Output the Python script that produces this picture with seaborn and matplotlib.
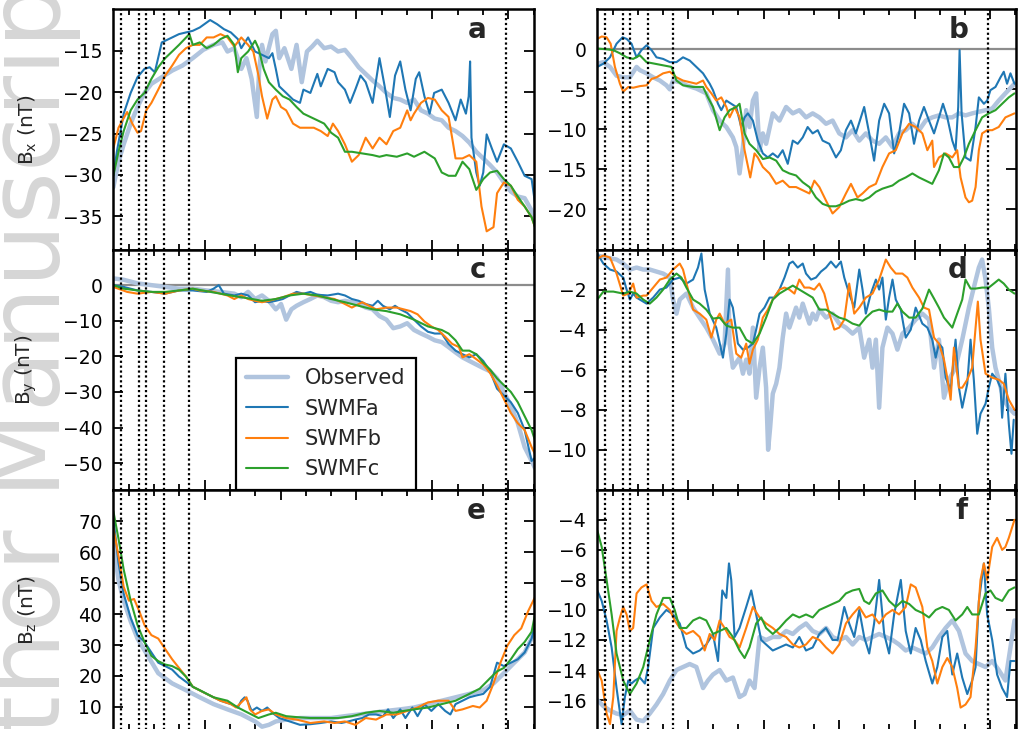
import matplotlib
matplotlib.use("Agg")
import matplotlib.pyplot as plt
from matplotlib.lines import Line2D
from matplotlib.ticker import FixedLocator, MultipleLocator
import seaborn as sns

# ---------------- data: (time [min], field [nT]) ----------------
SERIES_NAMES = ["Observed", "SWMFa", "SWMFb", "SWMFc"]
CROSSINGS = [-65.7, -51.9, -45.9, -32.2, -12.2, 238.5]   # boundary crossing times (dotted lines)

# Panel a : Bx, left column
A_OBS = [(-72.1,-31.5),(-68.0,-28.4),(-63.9,-26.3),(-58.4,-23.8),(-53.0,-21.8),(-47.5,-20.1),(-42.0,-19.0),(-33.8,-18.2),(-25.6,-17.4),(-17.5,-16.8),(-9.3,-15.9),(-1.1,-14.9),(7.1,-14.3),(14.0,-14.0),(18.1,-15.1),(23.5,-14.7),(29.0,-17.2),(33.1,-15.9),(37.2,-18.4),(41.3,-23.0),(43.2,-17.2),(45.4,-14.3),(48.1,-16.3),(53.6,-13.0),(56.3,-12.6),(59.0,-15.9),(63.1,-14.7),(68.6,-17.2),(72.7,-14.3),(76.8,-18.8),(80.9,-15.1),(85.0,-14.5),(89.1,-13.8),(94.5,-14.7),(100.0,-14.5),(105.5,-15.1),(110.9,-14.9),(116.4,-15.9),(121.8,-17.0),(127.3,-17.8),(132.8,-18.6),(138.2,-19.3),(143.7,-20.1),(149.1,-20.7),(154.6,-20.9),(160.1,-21.3),(165.5,-20.9),(171.0,-22.2),(176.5,-22.6),(181.9,-23.2),(187.4,-23.4),(192.8,-24.3),(198.3,-24.7),(203.8,-25.3),(209.2,-26.1),(214.7,-27.2),(220.2,-28.0),(225.6,-28.8),(231.1,-29.7),(236.5,-30.9),(242.0,-32.0),(247.5,-32.6),(252.9,-32.8),(258.4,-34.3),(261.1,-35.5)]
A_A = [(-72.1,-30.1),(-69.3,-27.2),(-63.9,-22.6),(-58.4,-20.1),(-53.0,-18.2),(-47.5,-17.2),(-43.4,-17.0),(-39.3,-17.6),(-33.8,-14.0),(-25.6,-13.4),(-20.2,-13.0),(-9.3,-12.6),(-3.8,-12.2),(4.4,-11.3),(9.9,-11.8),(15.3,-12.4),(20.8,-12.8),(26.3,-13.6),(29.0,-14.7),(34.4,-13.4),(39.9,-15.1),(45.4,-15.5),(50.8,-15.9),(53.6,-15.3),(56.3,-17.2),(59.0,-19.3),(64.5,-20.1),(69.9,-20.9),(75.4,-21.3),(78.1,-19.7),(83.6,-20.1),(89.1,-17.8),(91.8,-19.3),(97.3,-17.2),(102.7,-17.6),(105.5,-18.8),(110.9,-19.7),(115.0,-21.3),(119.1,-19.7),(123.2,-18.0),(127.3,-18.8),(132.8,-21.3),(138.2,-15.9),(142.3,-19.3),(146.4,-23.0),(150.5,-18.0),(154.6,-16.3),(158.7,-19.7),(162.8,-22.2),(166.9,-18.4),(169.6,-17.6),(173.7,-20.5),(177.8,-22.6),(181.4,-20.1),(187.4,-19.7),(192.8,-21.3),(198.3,-23.4),(202.4,-20.9),(206.5,-22.6),(208.7,-20.5),(209.8,-16.3),(210.9,-25.5),(214.7,-29.7),(217.4,-31.3),(220.2,-29.7),(222.9,-25.1),(227.0,-26.8),(231.1,-28.4),(236.5,-26.3),(242.0,-26.8),(247.5,-28.4),(252.9,-30.1),(258.4,-30.5),(261.1,-33.4)]
A_B = [(-72.1,-26.8),(-68.0,-24.3),(-61.2,-22.4),(-57.1,-23.8),(-53.0,-24.9),(-50.2,-24.7),(-46.1,-22.2),(-42.0,-21.3),(-36.6,-19.7),(-31.1,-18.0),(-25.6,-16.8),(-20.2,-15.5),(-14.7,-14.7),(-9.3,-14.3),(-3.8,-14.3),(1.7,-13.4),(7.1,-13.4),(12.6,-13.0),(18.1,-13.4),(23.5,-14.5),(29.0,-13.4),(34.4,-14.3),(38.5,-15.1),(42.6,-18.0),(45.4,-20.5),(49.5,-23.2),(53.6,-20.9),(56.3,-20.5),(60.4,-21.8),(64.5,-22.2),(69.9,-23.8),(75.4,-24.3),(80.9,-24.3),(86.3,-24.3),(91.8,-24.7),(97.3,-25.3),(101.4,-23.8),(105.5,-24.7),(110.9,-26.3),(116.4,-28.4),(121.8,-27.6),(127.3,-25.5),(132.8,-26.8),(138.2,-25.5),(143.7,-26.3),(149.1,-24.7),(154.6,-24.3),(160.1,-22.2),(162.8,-23.4),(165.5,-22.6),(171.0,-21.3),(176.5,-20.7),(181.9,-20.9),(187.4,-22.2),(192.8,-23.0),(195.6,-25.5),(198.3,-28.0),(203.8,-28.0),(209.2,-27.6),(214.7,-28.4),(218.8,-33.8),(222.9,-36.8),(228.3,-36.3),(231.1,-32.2),(236.5,-30.9),(242.0,-31.3),(247.5,-33.0),(252.9,-33.8),(258.4,-35.1),(261.1,-36.3)]
A_C = [(-72.1,-30.1),(-68.0,-27.2),(-63.9,-24.7),(-58.4,-22.2),(-53.0,-20.9),(-47.5,-20.1),(-42.0,-18.4),(-36.6,-17.0),(-31.1,-15.9),(-25.6,-15.1),(-20.2,-14.3),(-12.0,-13.0),(-9.3,-14.3),(-3.8,-14.0),(1.7,-14.7),(7.1,-14.3),(12.6,-13.6),(18.1,-13.2),(23.5,-14.3),(26.3,-17.6),(29.0,-15.9),(34.4,-15.1),(39.9,-13.8),(42.6,-14.7),(46.7,-17.2),(50.8,-18.8),(56.3,-19.7),(61.8,-20.5),(67.2,-20.9),(72.7,-21.8),(78.1,-22.6),(83.6,-23.0),(89.1,-23.4),(94.5,-23.8),(100.0,-24.9),(105.5,-25.5),(110.9,-27.2),(116.4,-27.2),(124.6,-27.4),(132.8,-27.6),(138.2,-27.8),(143.7,-27.6),(151.9,-27.8),(160.1,-27.4),(165.5,-27.8),(173.7,-27.2),(181.9,-28.0),(187.4,-29.7),(192.8,-30.1),(198.3,-30.1),(203.8,-28.4),(209.2,-29.3),(214.7,-31.8),(220.2,-30.5),(225.6,-29.7),(231.1,-29.5),(236.5,-30.5),(242.0,-31.3),(247.5,-32.6),(252.9,-33.8),(258.4,-35.1),(261.1,-36.3)]

# Panel b : Bx, right column
B_OBS = [(-72.1,-1.8),(-67.3,-1.6),(-62.0,-2.2),(-56.8,-3.3),(-51.5,-3.5),(-46.2,-3.5),(-40.9,-2.2),(-38.3,-2.6),(-33.0,-3.0),(-27.7,-3.5),(-22.4,-3.9),(-17.2,-4.5),(-14.5,-5.0),(-11.9,-3.9),(-6.6,-4.1),(-1.3,-4.5),(6.6,-4.9),(14.5,-5.5),(19.8,-7.6),(25.1,-8.9),(30.4,-9.7),(35.6,-11.0),(38.3,-12.2),(40.9,-15.5),(43.6,-12.2),(46.2,-7.6),(48.8,-9.7),(51.5,-6.4),(54.1,-5.5),(56.8,-12.6),(59.4,-10.5),(62.0,-11.8),(67.3,-8.0),(72.6,-8.9),(77.9,-7.2),(83.2,-8.0),(88.4,-7.6),(93.7,-8.5),(99.0,-8.0),(104.3,-8.5),(109.6,-9.3),(114.8,-8.9),(120.1,-10.5),(125.4,-11.0),(130.7,-10.1),(136.0,-11.4),(141.2,-10.5),(146.5,-11.4),(151.8,-11.8),(157.1,-11.0),(162.4,-12.2),(167.6,-10.5),(172.9,-10.1),(178.2,-9.3),(183.5,-10.1),(188.8,-8.9),(194.0,-8.5),(199.3,-8.25),(204.6,-8.5),(209.9,-8.5),(215.2,-8.0),(220.4,-8.25),(225.7,-8.0),(231.0,-7.8),(236.3,-7.6),(241.6,-7.4),(246.8,-6.4),(252.1,-5.5),(259.3,-4.3)]
B_A = [(-72.1,-2.2),(-67.3,-1.8),(-62.0,-1.0),(-56.8,0.7),(-52.0,1.5),(-48.8,1.3),(-44.9,0.7),(-40.9,-1.0),(-37.0,-0.1),(-33.0,0.5),(-29.0,-0.1),(-25.1,-1.0),(-19.8,-1.2),(-14.5,-1.6),(-9.2,-1.6),(-4.0,-1.0),(1.3,-1.4),(6.6,-2.2),(11.9,-3.0),(17.2,-4.3),(19.8,-5.1),(23.8,-6.8),(26.4,-7.6),(30.4,-6.4),(34.3,-6.8),(38.3,-7.2),(42.2,-9.7),(44.9,-8.5),(47.5,-8.0),(51.5,-8.9),(55.4,-11.4),(59.4,-13.0),(63.4,-13.5),(67.3,-13.0),(71.3,-13.5),(75.2,-12.6),(79.2,-14.3),(83.2,-11.4),(87.1,-11.8),(91.1,-11.0),(95.0,-9.7),(99.0,-10.5),(103.0,-10.1),(106.9,-11.4),(112.2,-11.8),(117.5,-13.5),(121.4,-12.6),(125.4,-10.1),(129.4,-8.9),(133.3,-10.5),(137.3,-8.5),(139.9,-7.2),(143.9,-10.5),(147.8,-13.9),(151.8,-8.9),(155.8,-6.8),(159.7,-8.0),(163.7,-13.0),(167.6,-10.5),(171.6,-6.8),(175.6,-8.0),(179.5,-11.8),(183.5,-8.9),(187.4,-7.2),(191.4,-8.9),(195.4,-10.5),(199.3,-8.5),(202.5,-6.8),(205.9,-8.5),(209.9,-11.4),(212.5,-12.6),(214.6,-7.2),(215.7,-0.1),(217.3,-8.0),(220.4,-13.5),(224.4,-13.9),(228.4,-9.7),(231.0,-6.0),(235.0,-6.8),(237.6,-6.4),(240.2,-5.1),(244.2,-4.7),(248.2,-3.5),(250.8,-2.8),(253.4,-4.3),(256.1,-3.0),(259.3,-4.3)]
B_B = [(-72.1,1.3),(-68.6,1.6),(-64.7,1.5),(-61.5,0.7),(-58.1,-2.2),(-54.1,-4.3),(-51.5,-5.3),(-47.5,-4.7),(-43.6,-4.8),(-38.3,-4.6),(-33.0,-4.5),(-29.0,-3.7),(-25.1,-3.5),(-19.8,-3.0),(-14.5,-2.8),(-9.2,-3.5),(-4.0,-3.9),(1.3,-4.1),(6.6,-4.3),(11.9,-3.9),(14.5,-4.7),(18.5,-5.5),(22.4,-6.4),(26.4,-6.0),(30.4,-7.2),(33.0,-8.5),(37.0,-7.2),(40.9,-8.5),(44.9,-12.6),(49.4,-16.0),(52.8,-13.0),(55.4,-13.5),(59.4,-14.7),(64.7,-15.5),(70.0,-16.8),(75.2,-16.4),(80.5,-17.2),(85.8,-17.2),(91.1,-17.6),(96.4,-18.0),(100.3,-16.4),(104.3,-17.2),(109.6,-18.9),(114.8,-20.5),(120.1,-19.7),(125.4,-18.0),(129.4,-16.8),(134.6,-18.5),(138.6,-18.0),(143.9,-17.2),(149.2,-16.8),(154.4,-14.7),(159.7,-13.0),(165.0,-12.6),(170.3,-10.5),(175.6,-9.3),(180.8,-9.7),(186.1,-10.5),(190.1,-12.6),(194.0,-11.4),(195.4,-14.7),(199.3,-13.5),(204.6,-13.0),(209.9,-13.5),(213.8,-12.6),(216.5,-16.0),(220.4,-18.5),(223.1,-19.1),(225.7,-18.9),(228.4,-17.2),(231.0,-12.6),(233.6,-10.5),(237.6,-10.1),(241.6,-10.1),(246.8,-9.7),(252.1,-8.5),(259.3,-8.0)]
B_C = [(-72.1,0.1),(-64.7,0.0),(-59.4,-0.1),(-54.1,-0.5),(-48.8,-1.0),(-43.6,-1.2),(-38.3,-0.75),(-33.0,-1.6),(-26.4,-1.8),(-19.8,-2.0),(-13.2,-2.2),(-9.2,-3.9),(-4.0,-4.5),(4.0,-4.7),(11.9,-4.7),(15.8,-6.0),(19.8,-7.2),(25.1,-10.1),(29.0,-8.5),(33.0,-7.6),(38.3,-7.2),(40.9,-6.8),(44.9,-10.5),(48.8,-11.8),(54.1,-12.6),(59.4,-13.7),(64.7,-13.5),(70.0,-13.9),(75.2,-15.1),(80.5,-15.5),(85.8,-15.75),(91.1,-16.6),(96.4,-17.2),(101.6,-18.5),(106.9,-19.3),(112.2,-19.6),(117.5,-19.6),(122.8,-19.3),(128.0,-18.9),(133.3,-18.7),(138.6,-18.9),(143.9,-18.5),(149.2,-17.8),(154.4,-17.4),(162.4,-17.0),(167.6,-16.4),(172.9,-16.0),(178.2,-15.5),(183.5,-16.0),(188.8,-16.4),(194.0,-16.8),(199.3,-15.1),(203.3,-13.0),(207.2,-13.5),(211.2,-14.7),(215.2,-14.7),(219.1,-13.5),(223.1,-11.8),(228.4,-10.1),(233.6,-8.5),(238.9,-8.0),(244.2,-7.6),(249.5,-6.8),(254.8,-6.0),(259.3,-5.5)]

# Panel c : By, left column
C_OBS = [(-72.1,1.9),(-63.9,1.5),(-53.0,0.5),(-42.0,0.0),(-31.1,-0.5),(-20.2,-1.0),(-9.3,-1.0),(1.7,-1.5),(12.6,-1.9),(23.5,-2.4),(29.0,-3.4),(34.4,-1.9),(39.9,-3.9),(45.4,-2.9),(50.8,-4.4),(56.3,-6.8),(60.4,-5.3),(64.5,-9.7),(68.6,-6.8),(72.7,-5.8),(78.1,-4.8),(83.6,-3.9),(89.1,-2.9),(94.5,-3.4),(100.0,-4.4),(105.5,-4.8),(110.9,-4.4),(116.4,-4.8),(121.8,-5.3),(127.3,-6.3),(132.8,-6.8),(138.2,-8.7),(143.7,-9.7),(149.1,-12.1),(154.6,-11.6),(160.1,-10.7),(165.5,-12.6),(171.0,-13.6),(176.5,-14.5),(181.9,-15.5),(187.4,-16.0),(192.8,-17.4),(198.3,-18.9),(203.8,-20.3),(209.2,-21.3),(214.7,-22.3),(220.2,-23.3),(225.6,-24.2),(231.1,-26.2),(236.5,-30.0),(242.0,-33.9),(247.5,-38.8),(252.9,-45.5),(258.4,-49.4),(261.1,-51.4)]
C_A = [(-72.1,0.0),(-63.9,-0.5),(-53.0,-1.5),(-42.0,-1.9),(-31.1,-2.4),(-20.2,-1.5),(-9.3,-1.5),(1.7,-1.9),(7.1,-1.0),(11.2,0.0),(15.3,-2.4),(23.5,-2.9),(29.0,-2.4),(34.4,-2.9),(39.9,-4.8),(45.4,-4.4),(50.8,-4.8),(56.3,-4.4),(61.8,-3.9),(67.2,-2.9),(72.7,-1.9),(78.1,-2.4),(83.6,-1.9),(89.1,-2.7),(97.3,-2.9),(105.5,-2.4),(110.9,-2.9),(116.4,-3.9),(121.8,-4.4),(127.3,-5.3),(132.8,-5.8),(136.9,-4.4),(140.9,-5.8),(146.4,-6.8),(150.5,-5.8),(154.6,-6.8),(160.1,-7.8),(165.5,-9.7),(171.0,-11.6),(176.5,-13.1),(181.9,-13.6),(187.4,-13.6),(192.8,-16.5),(198.3,-18.4),(203.8,-19.4),(209.2,-20.3),(214.7,-19.4),(220.2,-21.3),(225.6,-24.2),(231.1,-29.1),(236.5,-31.0),(242.0,-32.9),(247.5,-35.9),(252.9,-40.7),(258.4,-49.4),(261.1,-48.5)]
C_B = [(-72.1,-0.5),(-61.2,-1.9),(-53.0,-2.4),(-42.0,-1.9),(-31.1,-2.4),(-20.2,-1.5),(-9.3,-1.0),(-3.8,-1.5),(7.1,-1.9),(18.1,-2.9),(23.5,-3.9),(29.0,-2.9),(34.4,-3.9),(39.9,-4.4),(45.4,-4.8),(50.8,-4.4),(56.3,-3.9),(61.8,-3.4),(69.9,-2.4),(78.1,-2.4),(86.3,-2.9),(94.5,-3.4),(102.7,-3.9),(110.9,-5.3),(116.4,-6.3),(124.6,-4.8),(130.0,-5.8),(135.5,-6.8),(143.7,-6.3),(151.9,-6.3),(157.3,-6.8),(162.8,-7.3),(168.3,-8.2),(173.7,-10.2),(179.2,-11.6),(184.6,-12.6),(190.1,-14.5),(195.6,-16.5),(201.0,-17.4),(203.8,-20.3),(209.2,-19.4),(214.7,-20.8),(220.2,-22.3),(225.6,-24.7),(231.1,-28.1),(236.5,-32.0),(242.0,-35.9),(247.5,-38.8),(252.9,-40.7),(258.4,-45.5),(261.1,-47.5)]
C_C = [(-72.1,0.0),(-63.9,-1.0),(-53.0,-1.5),(-42.0,-1.9),(-31.1,-1.9),(-20.2,-1.5),(-9.3,-1.0),(1.7,-1.7),(12.6,-2.4),(23.5,-3.1),(34.4,-3.7),(45.4,-4.4),(56.3,-3.9),(67.2,-2.9),(78.1,-2.4),(89.1,-2.9),(100.0,-3.9),(110.9,-4.8),(121.8,-5.8),(132.8,-6.8),(143.7,-7.3),(154.6,-8.2),(165.5,-9.7),(176.5,-11.6),(187.4,-12.6),(192.8,-13.6),(198.3,-15.5),(203.8,-18.4),(209.2,-18.4),(214.7,-19.4),(220.2,-21.8),(225.6,-23.7),(231.1,-26.2),(236.5,-28.1),(242.0,-30.0),(247.5,-32.9),(252.9,-36.8),(258.4,-40.7),(261.1,-43.6)]

# Panel d : By, right column
D_OBS = [(-72.1,-0.3),(-64.7,-0.4),(-56.8,-0.5),(-51.5,-0.7),(-46.2,-1.0),(-40.9,-0.9),(-35.6,-1.0),(-30.4,-1.0),(-25.1,-1.1),(-19.8,-1.2),(-14.5,-1.4),(-11.9,-2.5),(-9.2,-3.2),(-6.6,-2.5),(-1.3,-2.2),(4.0,-2.9),(9.2,-3.4),(14.5,-3.9),(19.8,-4.5),(25.1,-5.2),(29.0,-4.7),(31.7,-1.0),(33.0,-4.7),(35.6,-5.9),(40.9,-5.4),(43.6,-6.2),(46.2,-5.5),(48.8,-6.2),(51.5,-3.9),(54.1,-7.4),(56.8,-5.9),(59.4,-4.9),(62.0,-6.9),(63.6,-10.0),(65.2,-8.9),(67.3,-7.2),(70.0,-6.7),(72.6,-5.9),(75.2,-4.4),(77.9,-3.2),(80.5,-3.9),(83.2,-3.4),(85.8,-2.9),(88.4,-3.4),(91.1,-2.7),(93.7,-3.2),(96.4,-3.7),(99.0,-3.2),(101.6,-3.5),(104.3,-3.0),(109.6,-3.4),(114.8,-3.2),(120.1,-3.7),(125.4,-3.9),(130.7,-4.2),(136.0,-3.9),(139.9,-5.4),(143.9,-4.5),(146.5,-5.9),(149.2,-4.5),(151.8,-7.9),(154.4,-4.9),(158.4,-3.9),(162.4,-4.2),(166.3,-5.0),(170.3,-4.2),(175.6,-3.9),(180.8,-3.5),(186.1,-3.2),(191.4,-3.5),(195.4,-5.9),(199.3,-4.5),(203.3,-7.4),(207.2,-6.5),(212.5,-5.9),(217.8,-4.5),(223.1,-2.9),(227.0,-1.9),(231.0,-0.9),(233.6,-0.5),(236.3,-1.5),(238.9,-2.9),(241.6,-4.9),(244.2,-5.9),(246.8,-6.5),(250.8,-7.5),(254.8,-7.9),(259.3,-8.2)]
D_A = [(-72.1,-0.2),(-67.3,-0.7),(-62.0,-1.0),(-56.8,-1.1),(-51.5,-1.4),(-48.8,-2.0),(-46.2,-2.5),(-43.6,-2.2),(-40.9,-2.4),(-38.3,-2.5),(-33.0,-2.7),(-27.7,-2.4),(-22.4,-2.0),(-17.2,-1.9),(-11.9,-1.5),(-6.6,-1.4),(-1.3,-1.7),(4.0,-1.5),(7.9,-0.9),(10.6,-0.2),(13.2,-2.0),(17.2,-3.2),(22.4,-3.9),(27.7,-5.4),(30.4,-4.2),(33.0,-2.5),(35.6,-2.9),(39.6,-4.7),(43.6,-5.0),(47.5,-4.9),(51.5,-4.7),(54.1,-4.0),(56.8,-3.2),(60.7,-2.9),(64.7,-2.4),(68.6,-2.4),(72.6,-2.0),(76.6,-1.4),(80.5,-0.7),(83.2,-0.6),(87.1,-0.9),(91.1,-0.7),(93.7,-1.2),(97.7,-1.5),(101.6,-1.4),(105.6,-1.1),(109.6,-0.9),(113.5,-0.6),(117.5,-0.9),(121.4,-0.6),(124.1,-1.4),(128.0,-2.2),(132.0,-2.9),(136.0,-1.0),(138.6,-2.0),(141.2,-3.2),(145.2,-2.2),(149.2,-1.5),(151.8,-2.0),(154.4,-1.4),(157.1,-3.5),(159.7,-2.4),(162.4,-1.5),(165.0,-2.5),(169.0,-3.0),(172.9,-4.4),(176.9,-4.0),(180.8,-2.9),(186.1,-3.7),(190.1,-3.9),(194.0,-4.5),(196.7,-5.4),(199.3,-4.7),(202.0,-4.9),(204.6,-6.4),(208.6,-7.0),(212.5,-4.5),(215.2,-6.9),(217.8,-7.9),(221.8,-6.7),(224.4,-4.5),(227.0,-6.5),(229.7,-9.2),(232.3,-8.2),(236.3,-7.7),(238.9,-6.9),(241.6,-6.2),(245.5,-6.5),(248.2,-6.9),(249.5,-8.4),(252.1,-6.2),(254.8,-8.7),(256.9,-10.2),(258.7,-8.5)]
D_B = [(-72.1,-0.45),(-67.3,-0.3),(-62.0,-0.4),(-56.8,-1.2),(-51.5,-2.3),(-47.5,-2.2),(-43.6,-1.7),(-40.9,-2.4),(-35.6,-2.3),(-33.0,-2.3),(-27.7,-1.9),(-22.4,-1.5),(-17.2,-1.4),(-11.9,-1.0),(-6.6,-0.7),(-4.0,-1.0),(0.0,-2.0),(4.0,-3.0),(9.2,-3.2),(14.5,-3.5),(18.5,-4.4),(22.4,-3.5),(25.1,-3.2),(29.0,-3.7),(34.3,-3.5),(38.3,-5.2),(42.2,-5.4),(46.2,-4.7),(48.8,-5.7),(51.5,-5.0),(55.4,-4.5),(59.4,-3.4),(63.4,-3.0),(67.3,-2.5),(72.6,-2.0),(76.6,-1.9),(80.5,-2.0),(84.5,-2.2),(88.4,-1.5),(92.4,-1.9),(96.4,-1.9),(100.3,-2.0),(104.3,-1.7),(108.2,-2.2),(112.2,-3.2),(116.2,-4.0),(120.1,-3.9),(124.1,-3.5),(128.0,-1.7),(132.0,-3.2),(136.0,-2.9),(141.2,-2.4),(146.5,-2.2),(151.8,-1.5),(157.1,-0.5),(161.0,-0.9),(165.0,-1.2),(170.3,-1.2),(174.2,-1.4),(178.2,-1.9),(183.5,-2.4),(187.4,-2.9),(191.4,-3.0),(195.4,-4.4),(199.3,-4.7),(203.3,-5.5),(205.9,-6.4),(208.6,-7.5),(211.2,-4.9),(215.2,-6.9),(217.8,-6.9),(221.8,-6.5),(225.7,-5.9),(228.4,-3.9),(230.2,-2.6),(232.3,-4.5),(236.3,-6.2),(241.6,-6.4),(246.8,-6.5),(250.8,-6.7),(254.8,-7.5),(259.3,-8.0)]
D_C = [(-72.1,-2.5),(-67.3,-2.1),(-59.4,-2.1),(-51.5,-2.2),(-46.2,-2.1),(-40.9,-2.2),(-35.6,-2.5),(-30.4,-2.7),(-25.1,-2.4),(-19.8,-2.0),(-14.5,-1.5),(-9.2,-1.2),(-5.3,-1.4),(-1.3,-1.9),(4.0,-2.5),(9.2,-2.7),(14.5,-3.0),(19.8,-3.45),(25.1,-3.4),(30.4,-3.8),(35.6,-3.9),(40.9,-3.9),(46.2,-4.5),(51.5,-4.7),(56.8,-4.2),(62.0,-3.4),(67.3,-2.5),(72.6,-2.2),(77.9,-2.0),(83.2,-1.8),(88.4,-2.0),(93.7,-2.2),(99.0,-2.4),(104.3,-3.0),(109.6,-3.0),(114.8,-3.2),(120.1,-3.4),(125.4,-3.5),(130.7,-3.7),(136.0,-3.8),(141.2,-3.4),(146.5,-3.1),(151.8,-3.0),(157.1,-3.1),(162.4,-3.1),(166.3,-2.7),(170.3,-3.1),(175.6,-3.4),(180.8,-3.4),(186.1,-2.95),(191.4,-2.0),(195.4,-2.45),(199.3,-2.9),(203.3,-3.4),(209.9,-3.9),(213.8,-3.2),(217.8,-2.5),(220.4,-1.5),(224.4,-1.95),(228.4,-1.95),(233.6,-1.9),(238.9,-1.9),(242.9,-1.7),(246.8,-1.5),(250.8,-1.7),(254.8,-2.0),(259.3,-2.2)]

# Panel e : Bz, left column
E_OBS = [(-72.1,63.3),(-68.0,51.0),(-63.9,44.4),(-58.4,37.7),(-53.0,32.1),(-44.8,26.5),(-36.6,20.9),(-25.6,17.6),(-14.7,15.4),(-3.8,13.1),(7.1,10.9),(18.1,9.2),(29.0,7.6),(39.9,5.3),(45.4,3.6),(50.8,4.2),(56.3,5.3),(64.5,5.9),(75.4,6.4),(86.3,6.4),(100.0,6.4),(110.9,7.0),(121.8,7.55),(132.8,8.1),(143.7,8.7),(154.6,9.2),(165.5,9.8),(176.5,10.9),(187.4,12.0),(198.3,13.1),(209.2,14.2),(220.2,15.4),(228.3,17.6),(236.5,20.9),(244.7,24.3),(252.9,27.6),(258.4,32.1),(261.1,36.5)]
E_A = [(-72.1,71.1),(-68.0,56.6),(-63.9,46.6),(-58.4,38.8),(-53.0,33.2),(-47.5,31.0),(-42.0,27.6),(-36.6,24.3),(-31.1,23.2),(-25.6,22.05),(-20.2,19.8),(-9.3,16.5),(1.7,14.2),(12.6,12.0),(20.8,10.9),(26.3,9.8),(29.0,12.0),(31.7,13.1),(33.9,12.0),(37.2,8.7),(41.3,9.8),(45.4,8.7),(49.5,9.8),(53.6,8.1),(59.0,6.4),(67.2,5.3),(75.4,4.2),(83.6,4.4),(91.8,4.8),(100.0,5.3),(108.2,4.8),(113.6,5.3),(119.1,5.9),(124.6,6.4),(130.0,7.55),(135.5,7.55),(141.0,7.0),(145.0,9.2),(149.1,6.4),(154.6,9.2),(158.7,6.4),(164.2,9.8),(168.3,7.0),(173.7,10.9),(179.2,8.7),(184.6,10.9),(190.1,8.7),(194.2,7.55),(198.3,10.9),(203.8,12.0),(209.2,13.1),(214.7,13.7),(220.2,14.2),(225.6,16.5),(231.1,24.3),(236.5,23.2),(242.0,24.3),(247.5,25.4),(252.9,27.6),(258.4,32.1),(261.1,36.5)]
E_B = [(-72.1,67.8),(-68.0,58.85),(-63.9,48.8),(-59.8,44.35),(-55.7,44.9),(-51.6,41.0),(-47.5,36.5),(-42.0,33.2),(-36.6,32.1),(-31.1,28.7),(-25.6,25.4),(-20.2,22.6),(-14.7,19.8),(-9.3,16.5),(1.7,14.2),(12.6,12.0),(20.8,10.9),(24.9,9.8),(29.0,11.45),(33.1,13.1),(35.8,9.2),(39.9,7.55),(45.4,8.7),(50.8,9.2),(56.3,7.55),(64.5,6.4),(72.7,5.9),(83.6,4.8),(94.5,5.3),(102.7,4.8),(110.9,5.3),(119.1,4.2),(127.3,6.4),(135.5,5.9),(143.7,7.55),(151.9,7.55),(160.1,8.7),(168.3,9.8),(176.5,11.45),(184.6,12.0),(192.8,12.0),(198.3,8.7),(203.8,9.2),(212.0,10.3),(217.4,9.8),(222.9,12.0),(228.3,17.6),(233.8,24.3),(239.3,29.85),(244.7,33.2),(250.2,35.4),(255.7,41.0),(261.1,45.5)]
E_C = [(-72.1,73.35),(-68.0,64.4),(-63.9,54.4),(-58.4,44.35),(-53.0,36.5),(-47.5,31.0),(-42.0,26.5),(-36.6,24.8),(-31.1,23.7),(-25.6,23.2),(-20.2,22.05),(-14.7,19.8),(-9.3,16.5),(-3.8,15.4),(7.1,13.1),(18.1,12.0),(26.3,9.8),(34.4,8.1),(42.6,6.4),(50.8,7.55),(56.3,8.1),(64.5,7.0),(72.7,6.7),(83.6,6.4),(94.5,6.4),(105.5,6.4),(116.4,7.0),(127.3,8.1),(138.2,8.7),(149.1,8.1),(157.3,8.7),(165.5,9.2),(176.5,9.8),(187.4,10.9),(198.3,12.0),(209.2,14.2),(217.4,15.9),(225.6,19.3),(231.1,21.5),(236.5,22.6),(242.0,25.4),(247.5,28.7),(252.9,31.0),(258.4,34.3),(261.1,39.9)]

# Panel f : Bz, right column
F_OBS = [(-72.1,-16.0),(-67.3,-16.4),(-62.0,-16.7),(-56.8,-16.9),(-51.5,-17.0),(-46.2,-16.7),(-40.9,-17.3),(-35.6,-17.4),(-30.4,-16.9),(-25.1,-16.3),(-19.8,-15.6),(-14.5,-14.7),(-9.2,-14.0),(-4.0,-13.8),(1.3,-13.6),(6.6,-13.8),(11.9,-15.2),(15.8,-14.7),(19.8,-14.3),(25.1,-14.0),(30.4,-14.7),(35.6,-14.5),(40.9,-15.8),(44.9,-15.6),(48.8,-14.7),(52.8,-15.2),(56.8,-11.8),(62.0,-12.0),(67.3,-11.8),(72.6,-11.8),(77.9,-11.4),(83.2,-11.6),(88.4,-11.2),(93.7,-10.9),(99.0,-11.4),(104.3,-11.6),(109.6,-11.2),(114.8,-11.8),(120.1,-12.0),(125.4,-11.8),(130.7,-12.3),(136.0,-11.8),(141.2,-12.0),(146.5,-11.8),(151.8,-11.6),(157.1,-11.8),(162.4,-12.0),(167.6,-12.3),(172.9,-12.7),(178.2,-12.5),(183.5,-12.7),(188.8,-12.9),(194.0,-12.5),(199.3,-11.8),(204.6,-11.2),(209.9,-10.7),(215.2,-11.4),(220.4,-12.9),(225.7,-13.4),(231.0,-13.6),(236.3,-13.8),(241.6,-13.4),(246.8,-14.0),(252.1,-14.7),(256.1,-12.5),(259.3,-10.7)]
F_A = [(-72.1,-8.7),(-68.6,-9.4),(-64.7,-10.7),(-60.7,-12.5),(-56.8,-15.2),(-52.8,-17.6),(-50.2,-15.8),(-47.5,-14.7),(-44.9,-14.9),(-42.2,-14.7),(-38.3,-14.5),(-34.3,-14.9),(-31.7,-13.8),(-27.7,-11.2),(-22.4,-10.5),(-17.2,-10.0),(-11.9,-10.3),(-6.6,-10.9),(-1.3,-12.5),(4.0,-12.9),(9.2,-12.7),(14.5,-12.3),(19.8,-11.6),(23.8,-13.4),(27.2,-8.7),(30.4,-9.2),(32.5,-6.9),(34.3,-8.0),(37.0,-11.8),(40.9,-11.2),(46.2,-9.8),(50.2,-8.7),(54.1,-10.3),(58.1,-12.0),(62.0,-12.3),(67.3,-12.7),(72.6,-12.5),(77.9,-12.3),(83.2,-12.5),(88.4,-11.8),(93.7,-12.7),(99.0,-12.5),(104.3,-11.6),(109.6,-11.2),(114.8,-12.0),(118.8,-12.0),(124.1,-9.8),(128.0,-10.9),(132.0,-11.8),(136.0,-10.0),(139.9,-11.8),(143.9,-12.9),(147.8,-10.9),(151.8,-8.0),(155.8,-11.6),(159.7,-12.9),(163.7,-10.3),(169.0,-8.0),(172.9,-11.4),(176.9,-12.9),(180.8,-11.2),(184.8,-12.0),(188.8,-13.4),(194.0,-14.9),(198.0,-13.8),(202.0,-11.8),(205.9,-11.4),(209.9,-14.3),(213.8,-12.9),(217.8,-14.5),(221.8,-15.6),(225.7,-14.7),(228.4,-13.8),(231.0,-9.4),(235.0,-6.9),(237.6,-10.3),(241.6,-12.0),(245.5,-14.3),(249.5,-15.2),(253.4,-15.8),(256.1,-13.4),(259.3,-13.4)]
F_B = [(-72.1,-14.0),(-68.6,-14.7),(-64.7,-16.9),(-62.0,-17.6),(-59.4,-15.8),(-56.8,-11.4),(-54.1,-10.5),(-51.5,-9.8),(-48.8,-10.3),(-46.2,-11.4),(-43.6,-11.2),(-40.9,-8.9),(-37.0,-8.5),(-33.0,-8.3),(-29.0,-9.4),(-25.1,-9.8),(-19.8,-9.6),(-14.5,-10.0),(-10.6,-10.7),(-6.6,-11.2),(-1.3,-11.6),(4.0,-11.4),(9.2,-11.8),(13.2,-12.7),(17.2,-11.6),(21.1,-12.0),(25.1,-10.7),(29.0,-11.2),(33.0,-11.8),(37.0,-12.0),(40.9,-12.5),(46.2,-11.2),(51.5,-9.8),(56.8,-10.5),(62.0,-10.9),(67.3,-11.2),(72.6,-11.6),(77.9,-11.8),(83.2,-12.3),(88.4,-12.5),(93.7,-12.3),(99.0,-11.8),(104.3,-12.0),(109.6,-12.5),(114.8,-12.9),(120.1,-12.3),(125.4,-10.9),(130.7,-10.3),(136.0,-9.8),(141.2,-10.5),(146.5,-10.3),(151.8,-10.9),(157.1,-10.3),(162.4,-10.0),(167.6,-10.3),(172.9,-9.8),(176.9,-8.3),(180.8,-8.5),(186.1,-9.8),(190.1,-12.5),(194.0,-13.4),(198.0,-14.9),(202.0,-13.8),(205.9,-13.2),(209.9,-13.8),(213.8,-15.2),(216.5,-16.5),(220.4,-16.3),(224.4,-15.8),(228.4,-12.5),(232.3,-8.0),(235.0,-6.9),(237.6,-8.0),(241.6,-5.8),(245.5,-5.2),(249.5,-6.0),(252.1,-5.8),(254.8,-5.2),(259.3,-4.0)]
F_C = [(-72.1,-4.7),(-68.6,-5.8),(-64.7,-8.0),(-60.7,-10.3),(-56.8,-12.9),(-51.5,-14.7),(-46.2,-15.6),(-40.9,-14.9),(-35.6,-13.8),(-30.4,-12.0),(-25.1,-10.3),(-19.8,-9.2),(-14.5,-9.2),(-10.6,-10.0),(-6.6,-11.2),(-1.3,-11.2),(4.0,-10.7),(9.2,-10.5),(14.5,-10.7),(19.8,-11.6),(25.1,-11.4),(30.4,-11.2),(35.6,-11.8),(40.9,-12.7),(44.9,-13.2),(48.8,-12.5),(54.1,-10.9),(58.1,-10.5),(62.0,-11.2),(67.3,-11.6),(72.6,-11.2),(77.9,-10.7),(83.2,-10.3),(88.4,-10.5),(93.7,-10.3),(99.0,-10.5),(104.3,-10.0),(109.6,-9.8),(114.8,-9.6),(120.1,-9.4),(125.4,-8.9),(130.7,-8.7),(136.0,-8.6),(139.9,-9.4),(143.9,-9.6),(149.2,-8.9),(154.4,-8.7),(159.7,-9.4),(165.0,-9.8),(170.3,-9.4),(175.6,-9.6),(180.8,-10.0),(186.1,-10.2),(191.4,-10.5),(196.7,-10.0),(202.0,-9.8),(207.2,-10.0),(212.5,-10.7),(217.8,-10.3),(221.8,-9.8),(225.7,-10.3),(231.0,-10.3),(236.3,-8.9),(240.2,-8.7),(244.2,-9.2),(249.5,-9.4),(254.8,-8.7),(259.3,-8.5)]

# axis settings per panel
Y_TICKS = {
    "a": [-35, -30, -25, -20, -15], "b": [-20, -15, -10, -5, 0],
    "c": [-50, -40, -30, -20, -10, 0], "d": [-10, -8, -6, -4, -2],
    "e": [10, 20, 30, 40, 50, 60, 70], "f": [-16, -14, -12, -10, -8, -6, -4],
}
Y_LIMS = {"a": (-39, -10), "b": (-25, 5), "c": (-57.5, 10), "d": (-12, 0),
          "e": (2.5, 80.2), "f": (-18, -2)}
Y_LABELS = {"a": "B$_{\\mathrm{x}}$ (nT)", "c": "B$_{\\mathrm{y}}$ (nT)", "e": "B$_{\\mathrm{z}}$ (nT)"}
T_LIM = (-72.07, 260.3)
T_MAJOR = [0, 60, 120, 180, 240]

COLORS = ["#b0c4de", "#1f77b4", "#ff7f0e", "#2ca02c"]
WIDTHS = [3.2, 1.5, 1.5, 1.5]

# ---------------- style ----------------
sns.set_style("white")
plt.rcParams["font.family"] = ["DejaVu Sans"]
plt.rcParams["mathtext.default"] = "regular"
plt.rcParams["axes.unicode_minus"] = True

fig = plt.figure(figsize=(10.23, 7.29), dpi=100)

# faint journal watermark at the far left (partly outside the page)
fig.text(0.059, -0.188, "Author Manuscript", rotation=90, rotation_mode="anchor",
         ha="left", va="baseline", fontsize=72, family="DejaVu Sans",
         color="#d6d6d6", zorder=-5)

col_x = [0.1108, 0.5839]
col_w = [0.4112, 0.4090]
row_y = [0.6577, 0.3281, -0.0015]
row_h = 0.3296

layout = [("a", 0, 0, [A_OBS, A_A, A_B, A_C]), ("b", 0, 1, [B_OBS, B_A, B_B, B_C]),
          ("c", 1, 0, [C_OBS, C_A, C_B, C_C]), ("d", 1, 1, [D_OBS, D_A, D_B, D_C]),
          ("e", 2, 0, [E_OBS, E_A, E_B, E_C]), ("f", 2, 1, [F_OBS, F_A, F_B, F_C])]

axes = {}
for key, r, c, series in layout:
    ax = fig.add_axes([col_x[c], row_y[r], col_w[c], row_h])
    axes[key] = ax
    ax.axhline(0, color="#8c8c8c", lw=1.6, zorder=1)
    for s, col, lw in zip(series, COLORS, WIDTHS):
        tt = [p[0] for p in s]
        vv = [p[1] for p in s]
        sns.lineplot(x=tt, y=vv, ax=ax, color=col, lw=lw, sort=False,
                     estimator=None, legend=False, zorder=2)
    for tc in CROSSINGS:
        ax.axvline(tc, color="black", ls=(0, (1, 1.2)), lw=1.6, zorder=3)
    ax.set_xlim(*T_LIM)
    ax.set_ylim(*Y_LIMS[key])
    ax.yaxis.set_major_locator(FixedLocator(Y_TICKS[key]))
    ax.xaxis.set_major_locator(FixedLocator(T_MAJOR))
    ax.xaxis.set_minor_locator(MultipleLocator(20))
    ax.tick_params(axis="both", which="both", direction="in", top=True, right=True,
                   bottom=True, left=True, labelbottom=False, labeltop=False,
                   colors="black")
    ax.tick_params(axis="both", which="major", length=7, width=1.3, labelsize=13.5, pad=8)
    ax.tick_params(axis="both", which="minor", length=4, width=1.3)
    for sp in ax.spines.values():
        sp.set_linewidth(1.8)
        sp.set_color("black")
        sp.set_visible(True)
    ax.set_xlabel("")
    if key in Y_LABELS:
        ax.set_ylabel(Y_LABELS[key], fontsize=14.5)
        ax.yaxis.set_label_coords(-0.176, 0.5)
    else:
        ax.set_ylabel("")
    ax.text(0.886, 0.972, key, transform=ax.transAxes, ha="right", va="top",
            fontsize=20, fontweight="bold", zorder=5)

handles = [Line2D([], [], color=col, lw=lw) for col, lw in zip(COLORS, WIDTHS)]
leg = axes["c"].legend(handles, SERIES_NAMES, loc="lower left", bbox_to_anchor=(0.2917, 0.0),
                       borderaxespad=0, frameon=True, fancybox=False, framealpha=1,
                       edgecolor="black", fontsize=15, handlelength=2.0,
                       labelspacing=0.5, borderpad=0.5, handletextpad=0.8)
leg.get_frame().set_linewidth(1.6)
leg.set_zorder(10)

fig.savefig("out.png", dpi=100)
